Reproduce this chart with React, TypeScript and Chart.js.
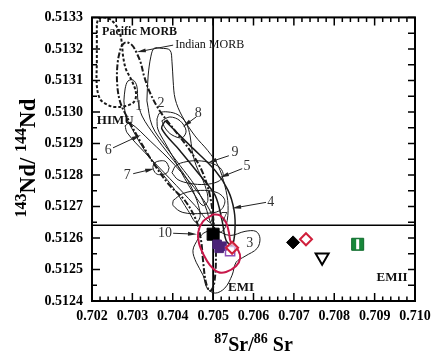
import React, { useEffect, useRef } from "react";
import { Chart, registerables } from "chart.js";

Chart.register(...registerables);

type P = [number, number];

// ---------- axes ----------
const xRange: P = [0.702, 0.71];
const yRange: P = [0.5124, 0.5133];
const xTicks = [0.702, 0.703, 0.704, 0.705, 0.706, 0.707, 0.708, 0.709, 0.71];
const yTicks = [0.5124, 0.5125, 0.5126, 0.5127, 0.5128, 0.5129, 0.513, 0.5131, 0.5132, 0.5133];
const xMinorStep = 0.0002;
const yMinorStep = 0.00005;

// ---------- reference lines (bulk earth) ----------
const refSr = 0.705;
const refNd = 0.51264;

// ---------- fields ----------
const pacificMorb: P[] = [
  [0.70212, 0.513281], [0.70217, 0.513297], [0.7023, 0.5133], [0.70245, 0.513294], [0.70259, 0.513275],
  [0.70269, 0.51325], [0.70274, 0.513218], [0.70277, 0.513177], [0.70284, 0.513136], [0.70299, 0.513098],
  [0.70309, 0.51306], [0.70304, 0.513032], [0.70284, 0.513019], [0.70254, 0.513016], [0.70235, 0.513025],
  [0.7022, 0.513041], [0.70212, 0.513082], [0.70212, 0.513161], [0.70212, 0.513224], [0.70212, 0.513281],
];
const indianMorb: P[] = [
  [0.70272, 0.513208], [0.70284, 0.513221], [0.70299, 0.513212], [0.70311, 0.513186], [0.70321, 0.513155],
  [0.70329, 0.513114], [0.70344, 0.51306], [0.70368, 0.513003], [0.70406, 0.51294], [0.70443, 0.512877],
  [0.70472, 0.512814], [0.70492, 0.512735], [0.70502, 0.51264], [0.70507, 0.512545], [0.70502, 0.512451],
  [0.70492, 0.512432], [0.70482, 0.51246], [0.70475, 0.512529], [0.7047, 0.512593], [0.70458, 0.512656],
  [0.7043, 0.512719], [0.70393, 0.512766], [0.70356, 0.51283], [0.70319, 0.512908], [0.70289, 0.512978],
  [0.70269, 0.513035], [0.70262, 0.513098], [0.70264, 0.513161], [0.70272, 0.513208],
];
const field1: P[] = [
  [0.70279, 0.513035], [0.70282, 0.513073], [0.70289, 0.513098], [0.70302, 0.513101], [0.70311, 0.513082],
  [0.70314, 0.513035], [0.70324, 0.512987], [0.70356, 0.512924], [0.70393, 0.512861], [0.7043, 0.512798],
  [0.70455, 0.512735], [0.70468, 0.512672], [0.70458, 0.512649], [0.70438, 0.512687], [0.70406, 0.512751],
  [0.70368, 0.512814], [0.70331, 0.512877], [0.70302, 0.51294], [0.70284, 0.512987], [0.70279, 0.513035],
];
const field2: P[] = [
  [0.70336, 0.513035], [0.70339, 0.513114], [0.70346, 0.513177], [0.70354, 0.513202], [0.70371, 0.513202],
  [0.70393, 0.513196], [0.70398, 0.513161], [0.70401, 0.513098], [0.70406, 0.513041], [0.70423, 0.512987],
  [0.70455, 0.512924], [0.70487, 0.512877], [0.70512, 0.51283], [0.70529, 0.512766], [0.70537, 0.512703],
  [0.70532, 0.51264], [0.70517, 0.512618], [0.70497, 0.51264], [0.7048, 0.512703], [0.70455, 0.512766],
  [0.70418, 0.51283], [0.70381, 0.512893], [0.70349, 0.512956], [0.70336, 0.513035],
];
const field3: P[] = [
  [0.70463, 0.512599], [0.7048, 0.512618], [0.70505, 0.512624], [0.70542, 0.512608], [0.70579, 0.512621],
  [0.70606, 0.512621], [0.70616, 0.512599], [0.70609, 0.512567], [0.70579, 0.512542], [0.70557, 0.512523],
  [0.70547, 0.512482], [0.70529, 0.512441], [0.70505, 0.512425], [0.70485, 0.512441], [0.70475, 0.512482],
  [0.70458, 0.512523], [0.7045, 0.512561], [0.70463, 0.512599],
];
const field4: P[] = [
  [0.70381, 0.512972], [0.70443, 0.512893], [0.70505, 0.512814], [0.70537, 0.512751], [0.70552, 0.512687],
  [0.70554, 0.512624], [0.70547, 0.512577], [0.70532, 0.512593], [0.70522, 0.512656], [0.70505, 0.512735],
  [0.70468, 0.512798], [0.70418, 0.512877], [0.70373, 0.512946], [0.70381, 0.512972],
];
const field5: P[] = [
  [0.70401, 0.512719], [0.70425, 0.512741], [0.70468, 0.512751], [0.7051, 0.512744], [0.70529, 0.512719],
  [0.70517, 0.512687], [0.70475, 0.512678], [0.70425, 0.512681], [0.70401, 0.512703], [0.70401, 0.512719],
];
const field6: P[] = [
  [0.70282, 0.512956], [0.70294, 0.512965], [0.70344, 0.512908], [0.70406, 0.51283], [0.70468, 0.512735],
  [0.70497, 0.512672], [0.70492, 0.512649], [0.70455, 0.512703], [0.70393, 0.512788], [0.70331, 0.512871],
  [0.70287, 0.512934], [0.70282, 0.512956],
];
const field7: P[] = [
  [0.70391, 0.512823], [0.70383, 0.512842], [0.70371, 0.512845], [0.70356, 0.512839], [0.70351, 0.512823],
  [0.70359, 0.512804], [0.70371, 0.512801], [0.70386, 0.512807], [0.70391, 0.512823],
];
const field8: P[] = [
  [0.70361, 0.512978], [0.70368, 0.512997], [0.70388, 0.513], [0.70413, 0.512991], [0.70433, 0.512965],
  [0.70443, 0.512924], [0.70448, 0.512877], [0.70458, 0.51283], [0.7048, 0.512766], [0.70487, 0.512719],
  [0.70475, 0.512703], [0.70455, 0.512735], [0.7043, 0.512788], [0.70406, 0.512845], [0.70381, 0.512902],
  [0.70363, 0.512946], [0.70361, 0.512978],
];
const field8Inner: P[] = [
  [0.70373, 0.512972], [0.70393, 0.512984], [0.70418, 0.512972], [0.70433, 0.51294], [0.70423, 0.512918],
  [0.70398, 0.512927], [0.70381, 0.512949], [0.70373, 0.512972],
];
const field9: P[] = [
  [0.70398, 0.512807], [0.70408, 0.51283], [0.70433, 0.512842], [0.70463, 0.512845], [0.70492, 0.512839],
  [0.70517, 0.512823], [0.70525, 0.512798], [0.70512, 0.512779], [0.7048, 0.51277], [0.70443, 0.512773],
  [0.70413, 0.512785], [0.70398, 0.512807],
];
const studyField: P[] = [
  [0.705, 0.512675], [0.70517, 0.512672], [0.70532, 0.512649], [0.70539, 0.512618], [0.70544, 0.512586],
  [0.70562, 0.512561], [0.70567, 0.512536], [0.70557, 0.512511], [0.70532, 0.512492], [0.70512, 0.512492],
  [0.70492, 0.512514], [0.70477, 0.512545], [0.70465, 0.512583], [0.70463, 0.512618], [0.70475, 0.512653],
  [0.705, 0.512675],
];

// ---------- samples ----------
const blackSquare: P[] = [[0.705, 0.512612]];
const purpleSquares: P[] = [[0.7051, 0.51258], [0.70522, 0.512574], [0.70515, 0.512567]];
const lilacOpenSquare: P[] = [[0.70542, 0.512558]];
const redDiamondsOpen: P[] = [[0.70547, 0.512569], [0.7073, 0.512596]];
const blackDiamond: P[] = [[0.70698, 0.512586]];
const openTriangle: P[] = [[0.7077, 0.512539]];
const greenSquare: P[] = [[0.70858, 0.51258]];

// ---------- labels & arrows ----------
const boldLabels: { t: string; p: P }[] = [
  { t: "HIMU", p: [0.70212, 0.512972] },
  { t: "EMI", p: [0.70569, 0.512441] },
  { t: "EMII", p: [0.70943, 0.512473] },
];
const pacificLabel = { t: "Pacific MORB", p: [0.70225, 0.513253] as P };
const indianLabel = { t: "Indian MORB", p: [0.70406, 0.513212] as P };
const numberLabels: { t: string; p: P }[] = [
  { t: "1", p: [0.70316, 0.513019] },
  { t: "2", p: [0.70371, 0.513028] },
  { t: "3", p: [0.70591, 0.512583] },
  { t: "4", p: [0.70643, 0.512713] },
  { t: "5", p: [0.70584, 0.512826] },
  { t: "6", p: [0.7024, 0.512877] },
  { t: "7", p: [0.70287, 0.512798] },
  { t: "7", p: [0.70527, 0.512662] },
  { t: "8", p: [0.70463, 0.512994] },
  { t: "9", p: [0.70554, 0.512871] },
  { t: "10", p: [0.70381, 0.512615] },
];
const arrows: [P, P][] = [
  [[0.70401, 0.513212], [0.70311, 0.51319]],
  [[0.70458, 0.512984], [0.70425, 0.512953]],
  [[0.70252, 0.512886], [0.70321, 0.512927]],
  [[0.70302, 0.512804], [0.70354, 0.51282]],
  [[0.70539, 0.512861], [0.70487, 0.512839]],
  [[0.70572, 0.51282], [0.70517, 0.512792]],
  [[0.70631, 0.512713], [0.70547, 0.512694]],
  [[0.70401, 0.512615], [0.7046, 0.512612]],
];

const SERIF = "'Liberation Serif', 'Times New Roman', serif";
const pts = (a: P[]) => a.map(([x, y]) => ({ x, y }));

const drawParts = (ctx: CanvasRenderingContext2D, parts: { t: string; sup: boolean }[], cx: number, base: number, big: number, small: number, raise: number) => {
  const fBig = `bold ${big}px ${SERIF}`;
  const fSmall = `bold ${small}px ${SERIF}`;
  let total = 0;
  parts.forEach((p) => {
    ctx.font = p.sup ? fSmall : fBig;
    total += ctx.measureText(p.t).width;
  });
  let x = cx - total / 2;
  ctx.textAlign = "left";
  ctx.textBaseline = "alphabetic";
  parts.forEach((p) => {
    ctx.font = p.sup ? fSmall : fBig;
    ctx.fillText(p.t, x, p.sup ? base - raise : base);
    x += ctx.measureText(p.t).width;
  });
};

const decor = {
  id: "decor",
  afterDatasetsDraw(chart: any) {
    const ctx: CanvasRenderingContext2D = chart.ctx;
    const a = chart.chartArea;
    const xs = chart.scales.x;
    const ys = chart.scales.y;
    const px = (v: number) => xs.getPixelForValue(v);
    const py = (v: number) => ys.getPixelForValue(v);
    ctx.save();
    // arrows
    ctx.strokeStyle = "#222";
    ctx.fillStyle = "#222";
    ctx.lineWidth = 1;
    arrows.forEach(([f, t]) => {
      const x1 = px(f[0]), y1 = py(f[1]), x2 = px(t[0]), y2 = py(t[1]);
      const ang = Math.atan2(y2 - y1, x2 - x1);
      const L = 9, W = 2;
      const c = Math.cos(ang), s = Math.sin(ang);
      ctx.beginPath();
      ctx.moveTo(x1, y1);
      ctx.lineTo(x2 - c * L * 0.5, y2 - s * L * 0.5);
      ctx.stroke();
      ctx.beginPath();
      ctx.moveTo(x2, y2);
      ctx.lineTo(x2 - c * L + s * W, y2 - s * L - c * W);
      ctx.lineTo(x2 - c * L - s * W, y2 - s * L + c * W);
      ctx.closePath();
      ctx.fill();
    });
    // labels
    ctx.fillStyle = "#111";
    ctx.textBaseline = "middle";
    ctx.font = `bold 12px ${SERIF}`;
    ctx.textAlign = "left";
    ctx.fillText(pacificLabel.t, px(pacificLabel.p[0]), py(pacificLabel.p[1]));
    ctx.font = `12px ${SERIF}`;
    ctx.fillText(indianLabel.t, px(indianLabel.p[0]), py(indianLabel.p[1]));
    ctx.font = `bold 13px ${SERIF}`;
    boldLabels.forEach((l, i) => {
      ctx.textAlign = i === 0 ? "left" : "center";
      ctx.fillText(l.t, px(l.p[0]), py(l.p[1]));
    });
    ctx.fillStyle = "#333";
    ctx.font = `14px ${SERIF}`;
    ctx.textAlign = "center";
    numberLabels.forEach((l) => ctx.fillText(l.t, px(l.p[0]), py(l.p[1])));
    // frame
    ctx.strokeStyle = "#000";
    ctx.lineWidth = 2;
    ctx.strokeRect(a.left, a.top, a.right - a.left, a.bottom - a.top);
    // inward ticks
    ctx.lineWidth = 1.5;
    ctx.beginPath();
    const nx = Math.round((xRange[1] - xRange[0]) / xMinorStep);
    for (let i = 0; i <= nx; i++) {
      const X = px(xRange[0] + i * xMinorStep);
      const len = i % 5 === 0 ? 8 : 4.5;
      ctx.moveTo(X, a.bottom);
      ctx.lineTo(X, a.bottom - len);
      ctx.moveTo(X, a.top);
      ctx.lineTo(X, a.top + len);
    }
    const ny = Math.round((yRange[1] - yRange[0]) / yMinorStep);
    for (let i = 0; i <= ny; i++) {
      const Y = py(yRange[0] + i * yMinorStep);
      const len = i % 2 === 0 ? 8 : 5;
      ctx.moveTo(a.left, Y);
      ctx.lineTo(a.left + len, Y);
      ctx.moveTo(a.right, Y);
      ctx.lineTo(a.right - 7, Y);
    }
    ctx.stroke();
    ctx.restore();
  },
  afterDraw(chart: any) {
    const ctx: CanvasRenderingContext2D = chart.ctx;
    const a = chart.chartArea;
    ctx.save();
    ctx.fillStyle = "#000";
    drawParts(
      ctx,
      [
        { t: "87", sup: true },
        { t: "Sr/", sup: false },
        { t: "86", sup: true },
        { t: " Sr", sup: false },
      ],
      (a.left + a.right) / 2,
      351,
      20,
      14,
      8
    );
    ctx.translate(35, 158);
    ctx.rotate(-Math.PI / 2);
    drawParts(
      ctx,
      [
        { t: "143", sup: true },
        { t: "Nd/ ", sup: false },
        { t: "144", sup: true },
        { t: "Nd", sup: false },
      ],
      0,
      0,
      23,
      16,
      9
    );
    ctx.restore();
  },
};

const lineField = (data: P[], extra: any = {}) => ({
  data: pts(data),
  showLine: true,
  pointRadius: 0,
  borderColor: "#1a1a1a",
  borderWidth: 1,
  fill: false,
  tension: 0.35,
  order: 3,
  ...extra,
});

const marker = (data: P[], extra: any) => ({
  data: pts(data),
  showLine: false,
  order: 0,
  ...extra,
});

export default function App() {
  const ref = useRef<HTMLCanvasElement | null>(null);
  useEffect(() => {
    if (!ref.current) return;
    Chart.defaults.font.family = SERIF;
    const chart = new Chart(ref.current, {
      type: "scatter",
      data: {
        datasets: [
          marker(greenSquare, { pointStyle: "line", rotation: 90, pointRadius: 5, borderColor: "#ffffff", borderWidth: 3, order: -1 }),
          marker(greenSquare, { pointStyle: "rect", pointRadius: 8.5, backgroundColor: "#17873a", borderColor: "#0f6b2c", borderWidth: 1 }),
          marker(openTriangle, { pointStyle: "triangle", rotation: 180, pointRadius: 7.5, backgroundColor: "#ffffff", borderColor: "#000", borderWidth: 2 }),
          marker(blackDiamond, { pointStyle: "rectRot", pointRadius: 6.5, backgroundColor: "#000", borderColor: "#000", borderWidth: 1 }),
          marker(redDiamondsOpen, { pointStyle: "rectRot", pointRadius: 6, backgroundColor: "rgba(255,255,255,0.6)", borderColor: "#d0203c", borderWidth: 2 }),
          marker(lilacOpenSquare, { pointStyle: "rect", pointRadius: 6.5, backgroundColor: "rgba(0,0,0,0)", borderColor: "#8e4fb8", borderWidth: 1.5 }),
          marker(purpleSquares, { pointStyle: "rect", pointRadius: 6, backgroundColor: "#4b2277", borderColor: "#4b2277", borderWidth: 1 }),
          marker(blackSquare, { pointStyle: "rect", pointRadius: 8.5, backgroundColor: "#000", borderColor: "#000", borderWidth: 1 }),
          lineField(studyField, { borderColor: "#c8184a", borderWidth: 2, order: 1 }),
          lineField(pacificMorb, { borderWidth: 2, borderDash: [3, 2], order: 2 }),
          lineField(indianMorb, { borderWidth: 2, borderDash: [6, 2, 2, 2], order: 2 }),
          lineField(field1),
          lineField(field2),
          lineField(field3),
          lineField(field4, { borderWidth: 1.5 }),
          lineField(field5),
          lineField(field6),
          lineField(field7),
          lineField(field8),
          lineField(field8Inner),
          lineField(field9),
          {
            data: [{ x: refSr, y: yRange[0] }, { x: refSr, y: yRange[1] }],
            showLine: true, pointRadius: 0, borderColor: "#000", borderWidth: 1.8, order: 4,
          },
          {
            data: [{ x: xRange[0], y: refNd }, { x: xRange[1], y: refNd }],
            showLine: true, pointRadius: 0, borderColor: "#000", borderWidth: 1.5, order: 4,
          },
        ] as any,
      },
      options: {
        animation: false,
        responsive: true,
        maintainAspectRatio: false,
        events: [],
        layout: { padding: { left: 0, top: 16, right: 27, bottom: 0 } },
        plugins: { legend: { display: false }, tooltip: { enabled: false } },
        scales: {
          x: {
            type: "linear",
            min: xRange[0],
            max: xRange[1],
            grid: { display: false, drawTicks: false },
            border: { display: false },
            afterBuildTicks: (s: any) => {
              s.ticks = xTicks.map((v) => ({ value: v }));
            },
            afterFit: (s: any) => {
              s.height = 55;
            },
            ticks: {
              padding: 7,
              color: "#000",
              maxRotation: 0,
              autoSkip: false,
              font: { family: SERIF, size: 14, weight: "bold" },
              callback: (v: any) => Number(v).toFixed(3),
            },
          },
          y: {
            type: "linear",
            min: yRange[0],
            max: yRange[1],
            grid: { display: false, drawTicks: false },
            border: { display: false },
            afterBuildTicks: (s: any) => {
              s.ticks = yTicks.map((v) => ({ value: v }));
            },
            afterFit: (s: any) => {
              s.width = 92;
            },
            ticks: {
              padding: 9,
              color: "#000",
              autoSkip: false,
              font: { family: SERIF, size: 14, weight: "bold" },
              callback: (v: any) => Number(v).toFixed(4),
            },
          },
        },
      } as any,
      plugins: [decor],
    });
    return () => chart.destroy();
  }, []);
  return (
    <div style={{ position: "fixed", left: 0, top: 0, width: 442, height: 356, background: "#fff" }}>
      <canvas ref={ref} />
    </div>
  );
}
